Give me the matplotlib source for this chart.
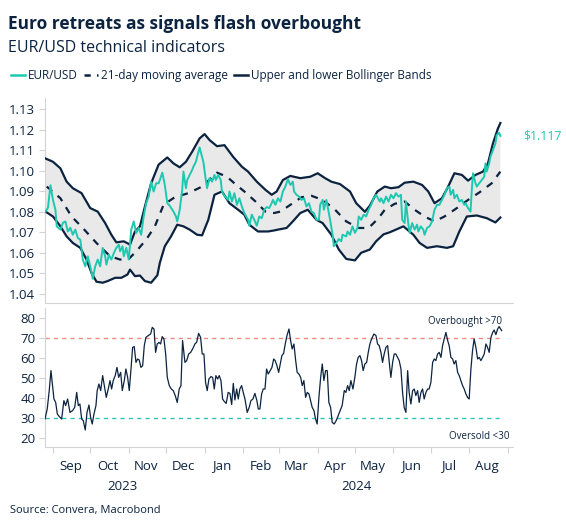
import numpy as np
import pandas as pd
import matplotlib.pyplot as plt
import matplotlib.dates as mdates
import matplotlib.transforms as mtransforms
from matplotlib.lines import Line2D

plt.rcParams['font.family'] = ['Open Sans', 'DejaVu Sans']

NAVY = "#0c2340"
TEAL = "#1ec8b0"
GREY = "#d4d4d4"

# Tage ab 2023-09-01
base = pd.Timestamp("2023-09-01")

# EUR/USD Kurs
price_days = [-6, -4, -2, 0, 2, 3, 6, 8, 10, 12, 14, 16, 18, 20, 22, 24, 26, 28, 30, 32,
              34, 36, 38, 40, 42, 43, 45, 47, 49, 51, 53, 54, 56, 57, 59, 61, 63, 65, 67, 69,
              71, 73, 75, 77, 79, 81, 83, 85, 86, 88, 90, 92, 94, 97, 99, 100, 102, 104, 105, 107,
              108, 110, 112, 113, 115, 116, 118, 120, 121, 123, 124, 126, 128, 130, 131, 133, 135, 136, 138, 141,
              142, 144, 146, 148, 150, 152, 154, 157, 158, 160, 162, 164, 166, 168, 170, 172, 174, 176, 177, 179,
              181, 183, 185, 187, 189, 191, 193, 194, 196, 198, 200, 202, 204, 206, 208, 210, 212, 214, 215, 217,
              218, 220, 221, 223, 225, 226, 228, 230, 232, 233, 236, 237, 239, 241, 243, 245, 246, 248, 250, 252,
              254, 256, 258, 260, 263, 264, 266, 268, 270, 272, 274, 276, 278, 280, 281, 283, 284, 286, 287, 289,
              291, 293, 294, 296, 298, 299, 301, 303, 305, 307, 309, 311, 313, 315, 317, 319, 320, 322, 323, 325,
              327, 329, 331, 332, 334, 336, 337, 338, 340, 341, 343, 345, 347, 348, 349, 351, 352, 354, 356, 357,
              359, 360]
price = [1.0801, 1.0820, 1.0930, 1.0858, 1.0810, 1.0729, 1.0713, 1.0746, 1.0753, 1.0704, 1.0722, 1.0688, 1.0713, 1.0672, 1.0664, 1.0567, 1.0534, 1.0583, 1.0534, 1.0473,
         1.0534, 1.0567, 1.0534, 1.0624, 1.0583, 1.0542, 1.0590, 1.0567, 1.0599, 1.0624, 1.0640, 1.0607, 1.0632, 1.0583, 1.0624, 1.0567, 1.0713, 1.0753, 1.0697, 1.0721,
         1.0688, 1.0777, 1.0842, 1.0874, 1.0947, 1.0899, 1.0939, 1.0939, 1.0955, 1.0991, 1.0931, 1.0842, 1.0829, 1.0801, 1.0777, 1.0753, 1.0810, 1.0907, 1.0996, 1.0915,
         1.0955, 1.0980, 1.1004, 1.1020, 1.1044, 1.1068, 1.1114, 1.1068, 1.1044, 1.0955, 1.0915, 1.0964, 1.0947, 1.0980, 1.0955, 1.0980, 1.0955, 1.0899, 1.0878, 1.0858,
         1.0899, 1.0850, 1.0891, 1.0834, 1.0866, 1.0826, 1.0794, 1.0761, 1.0732, 1.0786, 1.0761, 1.0732, 1.0777, 1.0769, 1.0810, 1.0823, 1.0818, 1.0842, 1.0858, 1.0834,
         1.0866, 1.0850, 1.0899, 1.0923, 1.0959, 1.0931, 1.0947, 1.0899, 1.0883, 1.0874, 1.0858, 1.0866, 1.0826, 1.0842, 1.0801, 1.0794, 1.0761, 1.0761, 1.0834, 1.0858,
         1.0810, 1.0858, 1.0826, 1.0761, 1.0688, 1.0632, 1.0648, 1.0667, 1.0656, 1.0688, 1.0680, 1.0704, 1.0688, 1.0729, 1.0697, 1.0721, 1.0777, 1.0761, 1.0786, 1.0777,
         1.0810, 1.0834, 1.0866, 1.0883, 1.0850, 1.0866, 1.0842, 1.0874, 1.0850, 1.0883, 1.0866, 1.0891, 1.0874, 1.0883, 1.0761, 1.0745, 1.0850, 1.0737, 1.0697, 1.0745,
         1.0713, 1.0737, 1.0704, 1.0729, 1.0713, 1.0688, 1.0721, 1.0729, 1.0753, 1.0810, 1.0834, 1.0834, 1.0858, 1.0883, 1.0915, 1.0923, 1.0883, 1.0907, 1.0866, 1.0883,
         1.0850, 1.0858, 1.0834, 1.0842, 1.0818, 1.0801, 1.0907, 1.0988, 1.0939, 1.0923, 1.0939, 1.0955, 1.0971, 1.1036, 1.0996, 1.1036, 1.1068, 1.1101, 1.1133, 1.1174,
         1.1185, 1.1170]

# 21-Tage-Durchschnitt
ma_days = [-5, 6, 15, 24, 35, 46, 54, 61, 67, 75, 82, 89, 98, 109, 120, 132, 140, 146, 154, 163,
           171, 178, 183, 191, 200, 208, 217, 227, 236, 246, 254, 262, 267, 275, 283, 291, 299, 307, 315, 325,
           334, 343, 353, 360]
ma = [1.0923, 1.0866, 1.0777, 1.0721, 1.0648, 1.0583, 1.0567, 1.0570, 1.0607, 1.0664, 1.0729, 1.0834, 1.0871, 1.0891, 1.0923, 1.0991, 1.0971, 1.0939, 1.0899, 1.0850,
      1.0801, 1.0794, 1.0801, 1.0834, 1.0871, 1.0878, 1.0858, 1.0810, 1.0753, 1.0721, 1.0721, 1.0769, 1.0810, 1.0839, 1.0850, 1.0810, 1.0777, 1.0753, 1.0777, 1.0818,
      1.0858, 1.0894, 1.0939, 1.0996]

# Bollinger-Bänder
up_days = [-6, 0, 6, 11, 16, 23, 30, 36, 42, 47, 51, 57, 62, 66, 70, 74, 79, 85, 92, 97,
           102, 107, 112, 118, 122, 126, 132, 138, 145, 152, 157, 164, 171, 176, 180, 185, 191, 199, 207, 213,
           219, 224, 231, 239, 244, 251, 255, 261, 267, 272, 278, 283, 290, 297, 302, 307, 313, 318, 323, 329,
           334, 340, 346, 350, 354, 358, 360]
upper = [1.1060, 1.1044, 1.1012, 1.0947, 1.0915, 1.0891, 1.0818, 1.0801, 1.0745, 1.0688, 1.0651, 1.0656, 1.0640, 1.0704, 1.0729, 1.0826, 1.0939, 1.1030, 1.1065, 1.1036,
         1.1017, 1.1044, 1.1093, 1.1158, 1.1179, 1.1150, 1.1120, 1.1125, 1.1068, 1.1020, 1.0996, 1.0947, 1.0907, 1.0883, 1.0899, 1.0955, 1.0975, 1.0964, 1.0971, 1.0988,
         1.0964, 1.0947, 1.0935, 1.0899, 1.0842, 1.0800, 1.0830, 1.0899, 1.0923, 1.0915, 1.0920, 1.0942, 1.0947, 1.0931, 1.0899, 1.0842, 1.0866, 1.0923, 1.0988, 1.0980,
         1.0952, 1.0980, 1.0996, 1.1036, 1.1133, 1.1206, 1.1233]
lo_days = [-6, 0, 6, 11, 16, 22, 27, 31, 35, 40, 44, 50, 55, 60, 62, 66, 70, 74, 79, 84,
           86, 90, 95, 100, 105, 110, 116, 120, 125, 130, 136, 142, 149, 154, 158, 165, 173, 178, 181, 188,
           193, 199, 205, 212, 217, 224, 230, 236, 243, 248, 255, 260, 266, 271, 282, 290, 295, 301, 309, 317,
           322, 327, 333, 341, 349, 356, 360]
lower = [1.0801, 1.0777, 1.0729, 1.0680, 1.0648, 1.0624, 1.0567, 1.0502, 1.0459, 1.0454, 1.0462, 1.0478, 1.0478, 1.0494, 1.0518, 1.0486, 1.0489, 1.0462, 1.0454, 1.0490,
         1.0551, 1.0632, 1.0680, 1.0737, 1.0729, 1.0713, 1.0688, 1.0685, 1.0761, 1.0883, 1.0899, 1.0842, 1.0810, 1.0786, 1.0737, 1.0704, 1.0704, 1.0709, 1.0713, 1.0721,
         1.0753, 1.0794, 1.0810, 1.0761, 1.0745, 1.0688, 1.0616, 1.0570, 1.0563, 1.0600, 1.0616, 1.0656, 1.0690, 1.0700, 1.0729, 1.0688, 1.0648, 1.0624, 1.0632, 1.0624,
         1.0632, 1.0704, 1.0777, 1.0782, 1.0769, 1.0748, 1.0772]

# RSI
rsi_days = [-6.4, -4.6, -3.0, -1.6, -0.2, 0.8, 2.2, 3.5, 5.1, 7.0, 8.8, 10.2, 11.8, 13.7, 15.8, 17.5, 19.1, 20.4, 21.7, 23.1,
            24.4, 26.0, 27.4, 29.0, 30.3, 31.6, 33.0, 34.6, 35.6, 37.0, 38.4, 40.0, 41.3, 42.9, 44.5, 45.9, 47.2, 48.5, 50.1, 51.5,
            52.9, 54.5, 55.8, 57.4, 58.7, 60.1, 61.4, 62.8, 64.1, 65.4, 66.8, 68.1, 69.4, 70.8, 72.2, 73.5, 74.8, 76.7, 78.6, 79.9,
            81.3, 82.6, 83.9, 85.3, 86.6, 87.9, 89.3, 90.7, 92.0, 93.6, 95.2, 96.8, 98.4, 100.0, 101.6, 103.0, 104.3, 106.2, 107.6, 109.2,
            110.8, 112.4, 114.2, 115.6, 117.2, 118.8, 120.1, 121.5, 122.8, 124.1, 125.5, 127.1, 128.5, 129.8, 131.1, 132.5, 133.8, 135.2, 136.5, 137.8,
            139.4, 141.0, 142.4, 143.8, 145.1, 146.4, 147.8, 149.1, 150.4, 151.8, 153.1, 154.5, 156.3, 157.9, 159.3, 160.9, 162.5, 164.1, 165.2, 166.5,
            167.9, 169.2, 170.6, 171.9, 173.2, 174.8, 176.2, 177.6, 178.8, 180.2, 181.6, 182.9, 184.2, 185.6, 186.9, 188.3, 189.9, 191.2, 192.5, 193.9,
            195.3, 196.5, 197.9, 199.3, 200.6, 201.9, 203.3, 204.6, 206.0, 207.3, 208.6, 210.0, 211.3, 212.6, 214.0, 215.4, 216.7, 218.0, 219.4, 220.7,
            222.0, 223.4, 224.7, 226.3, 227.9, 229.5, 231.1, 232.7, 234.4, 235.7, 237.1, 238.4, 239.7, 241.4, 242.9, 244.3, 245.6, 247.0, 248.3, 249.6,
            251.0, 252.4, 253.7, 255.0, 256.4, 258.2, 259.9, 261.2, 262.5, 263.9, 265.2, 266.5, 267.9, 269.3, 270.6, 271.9, 273.3, 274.6, 275.9, 277.3,
            278.6, 280.0, 281.3, 282.6, 284.0, 285.4, 286.6, 288.0, 289.4, 290.7, 292.0, 293.4, 294.7, 296.1, 297.4, 298.7, 300.1, 301.5, 302.7, 304.1,
            305.5, 306.8, 308.1, 309.5, 310.8, 312.2, 313.5, 314.8, 316.2, 317.6, 318.8, 320.2, 321.6, 322.8, 324.2, 325.6, 326.9, 328.2, 329.6, 330.9,
            332.3, 333.6, 334.9, 336.3, 337.6, 338.9, 340.3, 341.7, 343.0, 344.3, 345.7, 347.0, 348.4, 349.7, 351.0, 352.4, 353.8, 355.0, 356.4, 357.8,
            359.0, 361.0]
rsi = [29.5, 34.5, 43.7, 53.7, 45.3, 39.5, 37.8, 32.0, 30.7, 29.5, 38.7, 36.2, 39.5, 32.8, 33.7, 35.3, 42.8, 36.2, 37.0, 29.5,
       28.7, 24.0, 32.8, 36.5, 30.3, 27.0, 32.0, 36.2, 43.7, 47.0, 43.7, 51.2, 46.2, 40.3, 44.5, 48.7, 44.5, 48.7, 51.2, 55.3,
       50.3, 52.8, 43.7, 48.7, 54.5, 50.3, 43.7, 54.5, 65.3, 65.7, 57.8, 59.5, 59.0, 55.3, 56.2, 66.2, 70.3, 71.2, 72.0, 75.3,
       74.5, 62.8, 67.0, 67.8, 67.0, 70.7, 69.5, 62.0, 50.3, 46.2, 44.5, 43.7, 41.2, 37.8, 44.5, 46.2, 68.7, 57.8, 58.7, 62.0,
       62.8, 64.5, 67.0, 67.8, 72.3, 70.3, 62.0, 62.0, 47.8, 43.7, 49.5, 50.7, 50.3, 44.5, 51.2, 49.5, 51.2, 48.7, 39.5, 38.3,
       37.3, 42.8, 42.3, 36.7, 47.3, 39.0, 44.5, 39.5, 44.5, 46.2, 42.8, 39.5, 32.8, 35.3, 38.7, 39.5, 42.3, 38.7, 34.5, 34.5,
       42.0, 44.5, 44.5, 54.5, 52.0, 53.7, 55.3, 59.5, 58.7, 56.2, 52.8, 57.0, 61.2, 62.3, 67.0, 71.2, 74.5, 68.7, 64.5, 67.0,
       58.7, 52.8, 52.0, 50.3, 46.2, 48.7, 40.3, 42.8, 42.0, 38.7, 35.3, 33.7, 29.5, 27.0, 40.3, 50.3, 57.0, 48.7, 53.7, 53.7,
       37.8, 35.3, 27.8, 27.0, 28.7, 31.2, 33.7, 36.2, 43.7, 42.8, 46.2, 43.7, 48.7, 44.5, 50.3, 57.0, 60.3, 61.2, 58.7, 53.7,
       57.0, 57.8, 62.8, 67.0, 69.5, 72.0, 71.2, 67.0, 66.2, 62.8, 57.8, 62.0, 65.3, 66.2, 57.8, 50.3, 57.8, 62.0, 62.0, 60.3,
       58.7, 54.5, 42.8, 35.3, 32.8, 53.7, 42.8, 37.0, 43.7, 44.5, 41.2, 43.7, 37.8, 42.8, 44.5, 39.5, 42.8, 44.5, 44.5, 47.8,
       57.8, 59.5, 58.7, 62.0, 62.8, 60.3, 66.2, 69.5, 72.8, 68.7, 66.2, 60.3, 59.5, 57.0, 58.7, 52.8, 51.2, 48.7, 46.2, 44.5,
       42.0, 40.3, 39.5, 54.5, 63.7, 69.5, 65.3, 59.5, 60.3, 58.7, 60.3, 62.0, 67.0, 65.3, 62.8, 70.3, 72.8, 74.0, 71.7, 74.5,
       75.7, 73.7]

months = ["Sep", "Oct", "Nov", "Dec", "Jan", "Feb", "Mar", "Apr", "May", "Jun", "Jul", "Aug"]
years = ["2023", "2024"]


def to_dates(d):
    return base + pd.to_timedelta(np.array(d, dtype=float), unit="D")


px = to_dates(price_days)
mx = to_dates(ma_days)
ux = to_dates(up_days)
lx = to_dates(lo_days)
rx = to_dates(rsi_days)

fig = plt.figure(figsize=(5.66, 5.29), dpi=100)
ax1 = fig.add_axes([0.0795, 0.4272, 0.8265, 0.3875])
ax2 = fig.add_axes([0.0795, 0.155, 0.8265, 0.2628])

# Band als Polygon
poly_x = np.concatenate([mdates.date2num(ux), mdates.date2num(lx)[::-1]])
poly_y = np.concatenate([upper, lower[::-1]])
ax1.fill(poly_x, poly_y, color="#e9e9e9", lw=0, zorder=1)
ax1.plot(ux, upper, color=NAVY, lw=1.6, zorder=3)
ax1.plot(lx, lower, color=NAVY, lw=1.6, zorder=3)
ax1.plot(mx, ma, color=NAVY, lw=1.6, ls=(0, (3.2, 3.2)), zorder=3)
ax1.plot(px, price, color=TEAL, lw=1.4, zorder=4)
ax1.text(1.023, price[-1], f"${price[-1]:.3f}", transform=mtransforms.blended_transform_factory(ax1.transAxes, ax1.transData),
         color=TEAL, fontsize=8.8, va="center", ha="left")

ax1.set_ylim(1.0355, 1.1355)
ax1.set_yticks(np.arange(1.04, 1.131, 0.01))
ax1.yaxis.set_major_formatter(plt.FuncFormatter(lambda v, p: f"{v:.2f}"))

ax2.plot(rx, rsi, color=NAVY, lw=0.9, zorder=3)
ax2.hlines(70, rx[0], rx[-1], color="#f08a80", lw=1.0, ls=(0, (3, 3)), zorder=2)
ax2.hlines(30, rx[0], rx[-1], color="#2cc6b0", lw=1.0, ls=(0, (3, 3)), zorder=2)
ax2.text(rx[-1], 75.5, "Overbought >70", color=NAVY, fontsize=7, ha="right", va="bottom")
ax2.text(rx[-1] + pd.Timedelta(days=6), 23.5, "Oversold <30", color=NAVY, fontsize=7, ha="right", va="top")
ax2.set_ylim(15.5, 85)
ax2.set_yticks(range(20, 81, 10))

xmin = base - pd.Timedelta(days=6.4)
xmax = base + pd.Timedelta(days=370)
month_starts = pd.date_range("2023-09-01", "2024-09-01", freq="MS")
mid = [m + pd.Timedelta(days=14) for m in month_starts[:-1]]

for ax in (ax1, ax2):
    ax.set_xlim(xmin, xmax)
    for s in ("top", "right"):
        ax.spines[s].set_visible(False)
    ax.spines["left"].set_color(GREY)
    ax.spines["bottom"].set_color(GREY)
    ax.tick_params(axis="y", colors=GREY, labelcolor=NAVY, labelsize=9.5, length=4, pad=3)

ax1.set_xticks([])
ax2.set_xticks(month_starts)
ax2.set_xticklabels([])
ax2.set_xticks(mid, minor=True)
ax2.set_xticklabels(months, minor=True)
ax2.tick_params(axis="x", which="major", colors=GREY, length=4)
ax2.tick_params(axis="x", which="minor", length=0, labelcolor=NAVY, labelsize=9.5, pad=9)

trans = mtransforms.blended_transform_factory(ax2.transData, ax2.transAxes)
ax2.text(base + pd.Timedelta(days=56), -0.285, years[0], transform=trans, ha="center", va="center", color=NAVY, fontsize=9.5)
ax2.text(base + pd.Timedelta(days=244), -0.285, years[1], transform=trans, ha="center", va="center", color=NAVY, fontsize=9.5)

fig.text(0.014, 0.955, "Euro retreats as signals flash overbought", fontsize=12.5, fontweight="bold", color=NAVY, va="center")
fig.text(0.014, 0.91, "EUR/USD technical indicators", fontsize=11.5, color=NAVY, va="center")
fig.text(0.018, 0.035, "Source: Convera, Macrobond", fontsize=8, color=NAVY, va="center")

handles = [Line2D([], [], color=TEAL, lw=1.8),
           Line2D([], [], color=NAVY, lw=1.8, ls=(0, (2.5, 2.5))),
           Line2D([], [], color=NAVY, lw=1.8)]
fig.legend(handles, ["EUR/USD", "21-day moving average", "Upper and lower Bollinger Bands"],
           loc="center left", bbox_to_anchor=(0.0, 0.857), ncol=3, frameon=False,
           handlelength=1.2, handletextpad=0.25, columnspacing=0.5, fontsize=8.5, labelcolor=NAVY)

fig.savefig("out.png", dpi=100)
